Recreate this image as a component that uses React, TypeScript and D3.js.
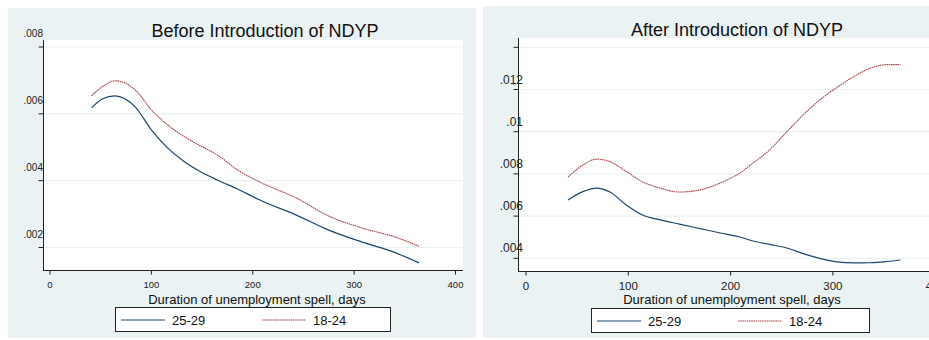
import React from 'react';
import * as d3 from 'd3';

// Before NDYP: hazard by duration (days)
const beforeDays = [41, 52, 64, 84, 100, 116, 133, 149, 165, 185, 207, 243, 275, 308, 341, 364];
const before2529 = [0.00618, 0.00645, 0.00654, 0.00621, 0.00552, 0.00498, 0.00456, 0.00426, 0.00402, 0.00375, 0.00342, 0.00297, 0.00252, 0.00216, 0.00184, 0.00154];
const before1824 = [0.00654, 0.00682, 0.00699, 0.00672, 0.00612, 0.00567, 0.00531, 0.00503, 0.00477, 0.00432, 0.00396, 0.00348, 0.00294, 0.00258, 0.00231, 0.00204];

// After NDYP
const afterDays = [41, 55, 69, 82, 98, 114, 131, 150, 170, 190, 209, 222, 238, 255, 271, 287, 304, 320, 336, 353, 366];
const after2529 = [0.00676, 0.00715, 0.00733, 0.00714, 0.00653, 0.00605, 0.00582, 0.00562, 0.00541, 0.0052, 0.00501, 0.00482, 0.00466, 0.00449, 0.00422, 0.004, 0.00383, 0.00378, 0.00379, 0.00385, 0.00392];
const after1824 = [0.00785, 0.0084, 0.0087, 0.00858, 0.00812, 0.00762, 0.00733, 0.00714, 0.00724, 0.00757, 0.00804, 0.00852, 0.00913, 0.01, 0.0108, 0.0115, 0.0121, 0.0126, 0.013, 0.01318, 0.01318];

const xTicks = [0, 100, 200, 300, 400];
const beforeYTicks = [0.002, 0.004, 0.006, 0.008];
const afterYTicks = [0.004, 0.006, 0.008, 0.01, 0.012, 0.014];
const afterYLabels = ['.004', '.006', '.008', '.01', '.012', ''];
const beforeYLabels = ['.002', '.004', '.006', '.008'];

const seriesNames = ['25-29', '18-24'];
const xTitle = 'Duration of unemployment spell, days';

const BG = '#eaf2f3';
const BLUE = '#1a476f';
const RED = '#a8434a';
const FONT = 'Arial, "Liberation Sans", sans-serif';

type PanelProps = {
  title: string;
  days: number[];
  young: number[];
  old: number[];
  yTicks: number[];
  yLabels: string[];
  bg: { x0: number; x1: number; y0: number; y1: number };
  plot: { x0: number; x1: number; y0: number; y1: number };
  xRange: [number, number];
  yDomain: [number, number];
  yRange: [number, number];
  yLabelX: number;
  yLabelDy: number;
  yLabelSize: number;
  xLabelSize: number;
  xLabelY: number;
  titleX: number;
  titleY: number;
  xTitleX: number;
  legendX: number;
  legendW: number;
  legendY: number;
};

function Panel(p: PanelProps) {
  const x = d3.scaleLinear().domain([0, 400]).range(p.xRange);
  const y = d3.scaleLinear().domain(p.yDomain).range(p.yRange);
  const line = d3
    .line<number>()
    .x((_, i) => x(p.days[i]))
    .y((d) => y(d))
    .curve(d3.curveMonotoneX);
  const axisY = p.plot.y1 + 0.5;
  const axisX = p.plot.x0 + 0.5;
  const ly = p.legendY + 13;
  const clipId = `clip-${p.titleX}`;
  return (
    <g>
      <rect x={p.bg.x0} y={p.bg.y0} width={p.bg.x1 - p.bg.x0} height={p.bg.y1 - p.bg.y0} fill={BG} />
      <text x={p.titleX} y={p.titleY} fontSize={18} textAnchor="middle" fill="#111" fontFamily={FONT}>
        {p.title}
      </text>
      <rect x={p.plot.x0} y={p.plot.y0} width={p.plot.x1 - p.plot.x0} height={p.plot.y1 - p.plot.y0} fill="#fff" />
      <clipPath id={clipId}>
        <rect x={p.plot.x0} y={p.plot.y0} width={p.plot.x1 - p.plot.x0} height={p.plot.y1 - p.plot.y0} />
      </clipPath>
      {p.yTicks.map((t) => (
        <line key={'g' + t} x1={p.plot.x0} x2={p.plot.x1} y1={y(t)} y2={y(t)} stroke={BG} strokeWidth={1.2} />
      ))}
      <g clipPath={`url(#${clipId})`}>
        <path d={line(p.old) || ''} fill="none" stroke={BLUE} strokeWidth={1.2} />
        <path d={line(p.young) || ''} fill="none" stroke={RED} strokeWidth={1.1} strokeDasharray="1.6 0.6" />
      </g>
      {/* y axis */}
      <line x1={axisX} x2={axisX} y1={p.plot.y0} y2={axisY} stroke="#222" strokeWidth={1} />
      {p.yTicks.map((t, i) => (
        <g key={'y' + t}>
          <line x1={axisX - 5} x2={axisX} y1={y(t)} y2={y(t)} stroke="#222" />
          <text
            x={p.yLabelX}
            y={y(t) + p.yLabelDy}
            fontSize={p.yLabelSize}
            textAnchor="end"
            fill="#222"
            fontFamily={FONT}
          >
            {p.yLabels[i]}
          </text>
        </g>
      ))}
      {/* x axis */}
      <line x1={p.plot.x0} x2={p.plot.x1} y1={axisY} y2={axisY} stroke="#222" strokeWidth={1} />
      {xTicks.map((t) => (
        <g key={'x' + t}>
          <line x1={x(t)} x2={x(t)} y1={axisY} y2={axisY + 4} stroke="#222" />
          <text x={x(t)} y={p.xLabelY} fontSize={p.xLabelSize} textAnchor="middle" fill="#222" fontFamily={FONT}>
            {t}
          </text>
        </g>
      ))}
      <text x={p.xTitleX} y={304} fontSize={13} textAnchor="middle" fill="#111" fontFamily={FONT}>
        {xTitle}
      </text>
      {/* legend */}
      <rect x={p.legendX + 0.5} y={p.legendY + 0.5} width={p.legendW} height={24} fill="#fff" stroke="#222" />
      <line x1={p.legendX + 6} x2={p.legendX + 50} y1={ly} y2={ly} stroke={BLUE} strokeWidth={1.2} />
      <text x={p.legendX + 57} y={ly + 4.5} fontSize={13} fill="#111" fontFamily={FONT}>
        {seriesNames[0]}
      </text>
      <line x1={p.legendX + 147} x2={p.legendX + 191} y1={ly} y2={ly} stroke={RED} strokeWidth={1.1} strokeDasharray="1.6 0.6" />
      <text x={p.legendX + 198} y={ly + 4.5} fontSize={13} fill="#111" fontFamily={FONT}>
        {seriesNames[1]}
      </text>
    </g>
  );
}

export default function App() {
  return (
    <svg
      width={929}
      height={340}
      style={{ position: 'absolute', left: 0, top: 0, background: '#fff' }}
    >
      <Panel
        title="Before Introduction of NDYP"
        days={beforeDays}
        young={before1824}
        old={before2529}
        yTicks={beforeYTicks}
        yLabels={beforeYLabels}
        bg={{ x0: 8, x1: 476, y0: 8, y1: 338 }}
        plot={{ x0: 43, x1: 463, y0: 40, y1: 270 }}
        xRange={[50, 455.5]}
        yDomain={[0.002, 0.008]}
        yRange={[247.5, 47]}
        yLabelX={43}
        yLabelDy={-10}
        yLabelSize={10}
        xLabelSize={9.5}
        xLabelY={288}
        titleX={265}
        titleY={37}
        xTitleX={257}
        legendX={115}
        legendW={275}
        legendY={307}
      />
      <Panel
        title="After Introduction of NDYP"
        days={afterDays}
        young={after1824}
        old={after2529}
        yTicks={afterYTicks}
        yLabels={afterYLabels}
        bg={{ x0: 483, x1: 929, y0: 6, y1: 338 }}
        plot={{ x0: 518, x1: 929, y0: 38, y1: 271 }}
        xRange={[526, 935.2]}
        yDomain={[0.004, 0.014]}
        yRange={[258.3, 47.3]}
        yLabelX={523}
        yLabelDy={-6}
        yLabelSize={12}
        xLabelSize={11.5}
        xLabelY={290}
        titleX={737}
        titleY={36}
        xTitleX={732}
        legendX={591}
        legendW={278}
        legendY={308}
      />
    </svg>
  );
}
